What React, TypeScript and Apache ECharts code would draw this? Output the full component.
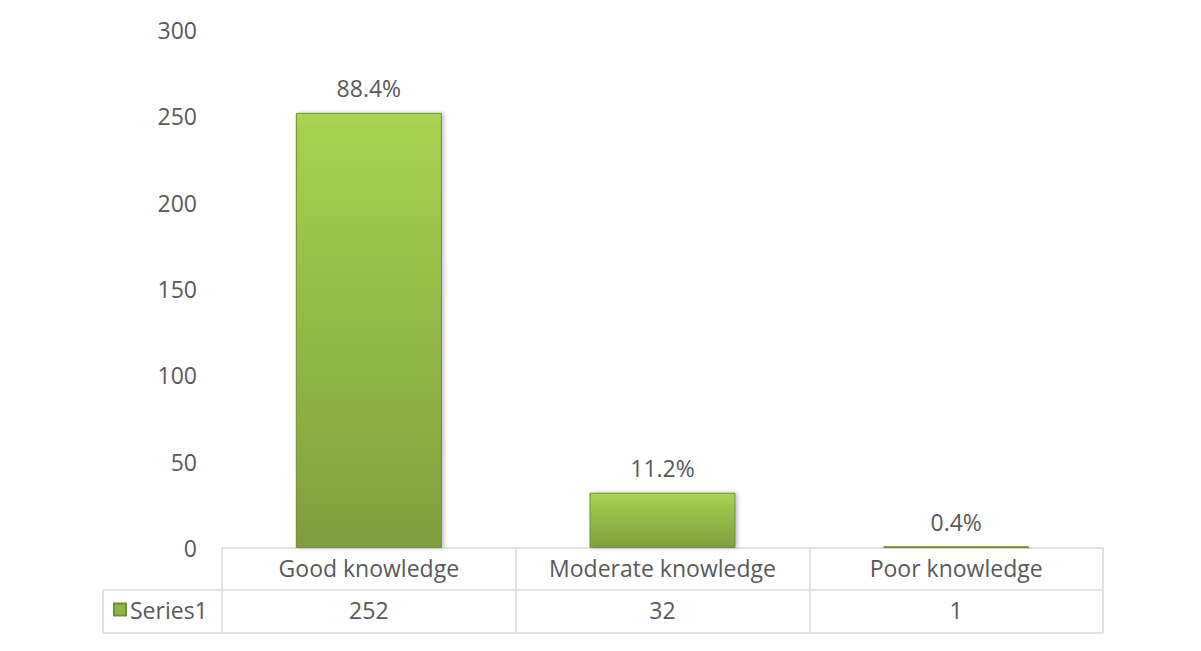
import React, { useEffect, useRef } from "react";
import * as echarts from "echarts";

const categories = ["Good knowledge", "Moderate knowledge", "Poor knowledge"];
const values = [252, 32, 1];
const seriesName = "Series1";
const yTicks = [0, 50, 100, 150, 200, 250, 300];

const FONT = "Open Sans";
const FS = 23;
const TEXT = "#595959";
const LINE = "#d9d9d9";

export default function App() {
  const ref = useRef<HTMLDivElement>(null);
  useEffect(() => {
    if (!ref.current) return;
    const chart = echarts.init(ref.current, null, { renderer: "svg" });
    const total = values.reduce((a, b) => a + b, 0);
    const barGrad = new echarts.graphic.LinearGradient(0, 0, 0, 1, [
      { offset: 0, color: "#aad555" },
      { offset: 0.03, color: "#a6d150" },
      { offset: 1, color: "#7f9e3e" },
    ]);
    chart.setOption({
      animation: false,
      textStyle: { fontFamily: FONT },
      grid: { left: 222, right: 98, top: 30, bottom: 103 },
      legend: {
        show: true,
        left: 113,
        top: 598,
        padding: 0,
        itemWidth: 12,
        itemHeight: 12,
        icon: "rect",
        itemGap: 0,
        textStyle: { color: TEXT, fontSize: FS, fontFamily: FONT, padding: [0, 0, 0, -1] },
        data: [{ name: seriesName, itemStyle: { color: "#8db547" } }],
      },
      xAxis: {
        type: "category",
        data: categories,
        boundaryGap: true,
        axisLine: { show: true, lineStyle: { color: LINE, width: 1.5 } },
        axisTick: { show: true, length: 85, lineStyle: { color: LINE, width: 1.5 } },
        axisLabel: {
          interval: 0,
          margin: -1,
          formatter: (name: string, idx: number) => `{a|${name}}\n{b|${values[idx]}}`,
          rich: {
            a: { fontSize: FS, color: TEXT, fontFamily: FONT, height: 42, lineHeight: 42 },
            b: { fontSize: FS, color: TEXT, fontFamily: FONT, height: 42, lineHeight: 42 },
          },
        },
      },
      yAxis: {
        type: "value",
        min: yTicks[0],
        max: yTicks[yTicks.length - 1],
        interval: 50,
        axisLine: { show: false },
        axisTick: { show: false },
        splitLine: { show: false },
        axisLabel: { color: TEXT, fontSize: FS, fontFamily: FONT, margin: 25 },
      },
      series: [
        {
          name: seriesName,
          type: "bar",
          data: values,
          barWidth: 146,
          itemStyle: {
            color: barGrad,
            borderColor: "#6f8e34",
            borderWidth: 1,
            shadowColor: "rgba(0,0,0,0.25)",
            shadowBlur: 4,
            shadowOffsetX: 2,
            shadowOffsetY: 0,
          },
          label: {
            show: true,
            position: "top",
            distance: 13,
            color: TEXT,
            fontSize: FS,
            fontFamily: FONT,
            formatter: (p: any) => `${((p.value / total) * 100).toFixed(1)}%`,
          },
        },
      ],
      graphic: [
        { type: "line", shape: { x1: 103, y1: 590, x2: 1103, y2: 590 }, style: { stroke: LINE, lineWidth: 1.5 } },
        { type: "line", shape: { x1: 103, y1: 633, x2: 1103, y2: 633 }, style: { stroke: LINE, lineWidth: 1.5 } },
        { type: "line", shape: { x1: 103, y1: 590, x2: 103, y2: 633 }, style: { stroke: LINE, lineWidth: 1.5 } },
      ],
    });
    return () => chart.dispose();
  }, []);
  return (
    <div
      ref={ref}
      style={{ position: "fixed", left: 0, top: 0, width: 1201, height: 651, background: "#fff" }}
    />
  );
}
